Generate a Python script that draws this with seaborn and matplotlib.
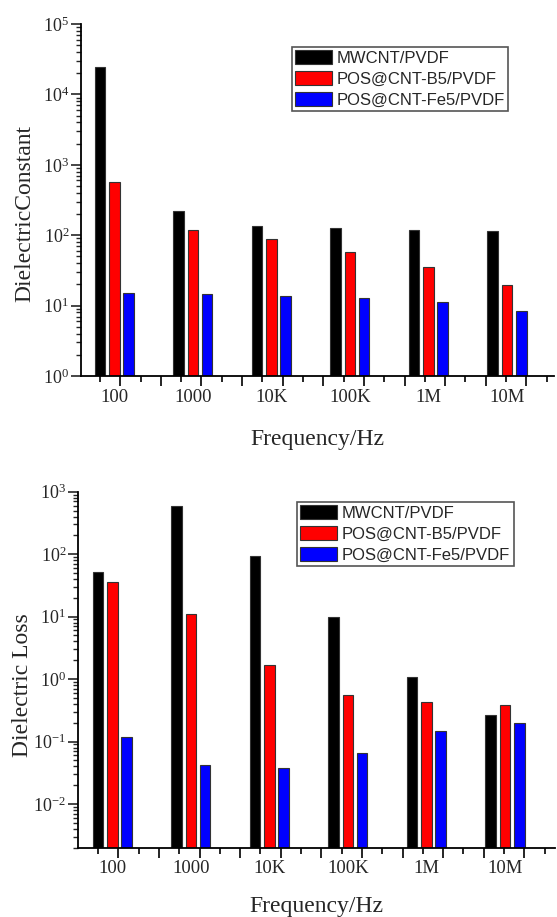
import numpy as np
import pandas as pd
import matplotlib
matplotlib.use("Agg")
import matplotlib.pyplot as plt
import seaborn as sns
from matplotlib.ticker import LogLocator, FixedLocator, NullFormatter

# ---------------- data ----------------
frequencies = ["100", "1000", "10K", "100K", "1M", "10M"]
series = ["MWCNT/PVDF", "POS@CNT-B5/PVDF", "POS@CNT-Fe5/PVDF"]

const_mwcnt = [24300, 221, 134, 126, 120, 113.6]
const_b5 = [564, 118.6, 88, 58.3, 35.3, 19.6]
const_fe5 = [15.2, 14.5, 13.8, 12.9, 11.1, 8.5]

loss_mwcnt = [52.7, 600, 95, 9.7, 1.08, 0.27]
loss_b5 = [36, 11.2, 1.67, 0.56, 0.43, 0.39]
loss_fe5 = [0.119, 0.042, 0.037, 0.065, 0.147, 0.195]

colors = ["#000000", "#FF0000", "#0000FF"]


def make_df(a, b, c):
    return pd.DataFrame({
        "freq": list(frequencies) * 3,
        "series": np.repeat(series, len(frequencies)),
        "value": np.concatenate([a, b, c]),
    })


df_const = make_df(const_mwcnt, const_b5, const_fe5)
df_loss = make_df(loss_mwcnt, loss_b5, loss_fe5)

sns.set_style("white")
plt.rcParams["font.family"] = ["Liberation Serif", "DejaVu Serif"]
plt.rcParams["axes.unicode_minus"] = False

fig = plt.figure(figsize=(5.57, 9.17), dpi=100)
W, H = 557, 917

ax1 = fig.add_axes([81 / W, 1 - 376 / H, 473 / W, 352 / H])
ax2 = fig.add_axes([78 / W, 1 - 847.7 / H, 477 / W, 356 / H])

# tick layout (data units of the categorical axis)
step = 0.517
minor_ticks = [-0.182 + step * k for k in range(12)]
major_ticks = [0.0764 + step * k for k in range(11)]


def draw(ax, df, ylim, xlim, ylabel, ylabel_xy, xlabel_y, label_y, leg_anchor):
    sns.barplot(data=df, x="freq", y="value", hue="series", order=frequencies,
                hue_order=series, palette=colors, saturation=1, width=0.546,
                gap=0.26, log_scale=True, edgecolor="#333333", linewidth=0.8,
                ax=ax)
    ax.set_yscale("log")
    ax.set_ylim(*ylim)
    ax.set_xlim(*xlim)
    for s in ["top", "right"]:
        ax.spines[s].set_visible(False)
    for s in ["left", "bottom"]:
        ax.spines[s].set_linewidth(1.3)
        ax.spines[s].set_color("black")

    ax.yaxis.set_major_locator(LogLocator(base=10, numticks=20))
    ax.yaxis.set_minor_locator(LogLocator(base=10, subs=np.arange(2, 10), numticks=100))
    ax.yaxis.set_minor_formatter(NullFormatter())
    ax.tick_params(axis="y", which="major", direction="out", length=7, width=1.2,
                   labelsize=13, pad=1.5, left=True)
    ax.tick_params(axis="y", which="minor", direction="out", length=3.5, width=1.0, left=True)

    ax.xaxis.set_major_locator(FixedLocator(major_ticks))
    ax.xaxis.set_minor_locator(FixedLocator(minor_ticks))
    ax.xaxis.set_major_formatter(NullFormatter())
    ax.xaxis.set_minor_formatter(NullFormatter())
    ax.tick_params(axis="x", which="major", direction="out", length=7, width=1.2,
                   bottom=True, color="black")
    ax.tick_params(axis="x", which="minor", direction="out", length=4, width=1.2,
                   bottom=True, color="black")

    tr = ax.get_xaxis_transform()
    for i, lab in enumerate(frequencies):
        ax.text(i, label_y, lab, transform=tr, ha="center", va="center", fontsize=13.5)

    ax.set_xlabel("Frequency/Hz", fontsize=17)
    ax.xaxis.set_label_coords(0.5, xlabel_y)
    ax.set_ylabel(ylabel, fontsize=17)
    ax.yaxis.set_label_coords(*ylabel_xy)

    handles, labels = ax.get_legend_handles_labels()
    leg = ax.legend(handles, labels, loc="upper left", bbox_to_anchor=leg_anchor,
                    borderaxespad=0, frameon=True, fancybox=False,
                    prop={"family": "Liberation Sans", "size": 12},
                    handlelength=2.2, handleheight=0.95, handletextpad=0.3,
                    labelspacing=0.3, borderpad=0.2)
    fr = leg.get_frame()
    fr.set_edgecolor("#555555")
    fr.set_linewidth(1.2)
    fr.set_alpha(1)
    for h in leg.legend_handles:
        h.set_edgecolor("#333333")
        h.set_linewidth(0.8)


draw(ax1, df_const, (1, 1e5), (-0.424, 5.599), "DielectricConstant",
     (-0.096, 0.463), -0.15, -0.0625, (0.4457, 0.9355))
draw(ax2, df_loss, (10 ** -2.7, 1e3), (-0.437, 5.637), "Dielectric Loss",
     (-0.094, 0.457), -0.137, -0.0576, (0.459, 0.972))

fig.savefig("out.png", dpi=100)
